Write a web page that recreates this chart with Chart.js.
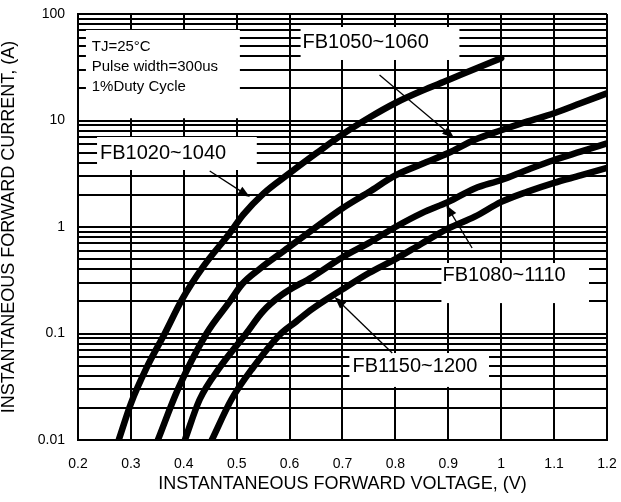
<!DOCTYPE html>
<html>
<head>
<meta charset="utf-8">
<script src="https://cdn.jsdelivr.net/npm/chart.js@4.4.1/dist/chart.umd.min.js"></script>
<style>
  body { margin: 0; background: #fff; }
  #wrap { width: 621px; height: 502px; position: relative; }
</style>
</head>
<body>
<div id="wrap"><canvas id="ivChart"></canvas></div>
<script>
// forward voltage (V) / forward current (A)
const v1020 = [0.277, 0.3, 0.33, 0.364, 0.396, 0.436, 0.487, 0.512, 0.55, 0.6, 0.65, 0.7, 0.75, 0.8, 0.85, 0.9, 0.95, 1.0];
const i1020 = [0.01, 0.022, 0.048, 0.1, 0.206, 0.42, 0.88, 1.3, 2.05, 3.2, 4.9, 7.4, 10.6, 14.6, 19, 24, 30.5, 38.5];

const v1050 = [0.351, 0.389, 0.443, 0.487, 0.51, 0.545, 0.59, 0.643, 0.7, 0.75, 0.8, 0.85, 0.9, 0.95, 1.0, 1.05, 1.1, 1.15, 1.2];
const i1050 = [0.01, 0.03, 0.1, 0.2, 0.29, 0.41, 0.6, 0.94, 1.5, 2.13, 3.05, 3.9, 4.95, 6.6, 8.1, 9.8, 11.7, 14.5, 18];

const v1080 = [0.402, 0.43, 0.468, 0.518, 0.549, 0.585, 0.643, 0.7, 0.75, 0.8, 0.85, 0.9, 0.95, 1.0, 1.05, 1.1, 1.15, 1.2];
const i1080 = [0.01, 0.024, 0.048, 0.1, 0.16, 0.23, 0.34, 0.52, 0.71, 1.0, 1.35, 1.72, 2.3, 2.76, 3.45, 4.26, 5.1, 6.1];

const v1150 = [0.453, 0.49, 0.531, 0.581, 0.613, 0.643, 0.7, 0.75, 0.8, 0.85, 0.9, 0.95, 1.0, 1.05, 1.1, 1.15, 1.2];
const i1150 = [0.01, 0.024, 0.048, 0.097, 0.13, 0.17, 0.26, 0.37, 0.5, 0.7, 0.97, 1.25, 1.72, 2.15, 2.6, 3.05, 3.6];

const seriesNames = ['FB1020~1040', 'FB1050~1060', 'FB1080~1110', 'FB1150~1200'];
const condLines = ['TJ=25°C', 'Pulse width=300us', '1%Duty Cycle'];

const xTicks = [0.2, 0.3, 0.4, 0.5, 0.6, 0.7, 0.8, 0.9, 1.0, 1.1, 1.2];
const xLabels = ['0.2', '0.3', '0.4', '0.5', '0.6', '0.7', '0.8', '0.9', '1', '1.1', '1.2'];
const yTicks = [
  0.01, 0.02, 0.03, 0.04, 0.05, 0.06, 0.07, 0.08, 0.09,
  0.1, 0.2, 0.3, 0.4, 0.5, 0.6, 0.7, 0.8, 0.9,
  1, 2, 3, 4, 5, 6, 7, 8, 9,
  10, 20, 30, 40, 50, 60, 70, 80, 90, 100
];
const yMajor = [0.01, 0.1, 1, 10, 100];
const yLabels = ['0.01', '0.1', '1', '10', '100'];

const FONT = "'Liberation Sans', Arial, sans-serif";

// label boxes + arrows, placed in data units (V, A)
const condBox = { x0: 0.215, x1: 0.506, y0: 70.8, y1: 10.5, tx: 0.226, ty: [49, 31.8, 20.6] };
const labelBoxes = [
  { x0: 0.236, x1: 0.538, y0: 7.0, y1: 3.43, tx: 0.2415, ty: 4.95, from: [0.449, 3.36], to: [0.525, 1.91] },
  { x0: 0.6208, x1: 0.921, y0: 75.5, y1: 37, tx: 0.6245, ty: 54.6, from: [0.770, 26.7], to: [0.911, 6.85] },
  { x0: 0.887, x1: 1.166, y0: 0.459, y1: 0.193, tx: 0.889, ty: 0.354, from: [0.945, 0.635], to: [0.896, 1.61] },
  { x0: 0.713, x1: 0.977, y0: 0.0656, y1: 0.0315, tx: 0.719, ty: 0.0485, from: [0.794, 0.0656], to: [0.685, 0.22] }
];

function drawArrow(ctx, x0, y0, x1, y1) {
  const ang = Math.atan2(y1 - y0, x1 - x0);
  const len = 12, half = 4.5;
  ctx.beginPath();
  ctx.moveTo(x0, y0);
  ctx.lineTo(x1 - Math.cos(ang) * len * 0.8, y1 - Math.sin(ang) * len * 0.8);
  ctx.lineWidth = 1.3;
  ctx.strokeStyle = '#000';
  ctx.stroke();
  ctx.beginPath();
  ctx.moveTo(x1, y1);
  ctx.lineTo(x1 - Math.cos(ang) * len + Math.sin(ang) * half, y1 - Math.sin(ang) * len - Math.cos(ang) * half);
  ctx.lineTo(x1 - Math.cos(ang) * len - Math.sin(ang) * half, y1 - Math.sin(ang) * len + Math.cos(ang) * half);
  ctx.closePath();
  ctx.fillStyle = '#000';
  ctx.fill();
}

const notesPlugin = {
  id: 'notes',
  afterDatasetsDraw(chart) {
    const { ctx, scales: { x, y } } = chart;
    const px = v => x.getPixelForValue(v);
    const py = v => y.getPixelForValue(v);
    ctx.save();

    ctx.fillStyle = '#fff';
    ctx.fillRect(px(condBox.x0), py(condBox.y0), px(condBox.x1) - px(condBox.x0), py(condBox.y1) - py(condBox.y0));
    ctx.fillStyle = '#000';
    ctx.font = '15px ' + FONT;
    ctx.textBaseline = 'middle';
    ctx.textAlign = 'left';
    condLines.forEach((t, k) => ctx.fillText(t, px(condBox.tx), py(condBox.ty[k])));

    labelBoxes.forEach((b, k) => {
      ctx.fillStyle = '#fff';
      ctx.fillRect(px(b.x0), py(b.y0), px(b.x1) - px(b.x0), py(b.y1) - py(b.y0));
      ctx.fillStyle = '#000';
      ctx.font = '20px ' + FONT;
      ctx.fillText(seriesNames[k], px(b.tx), py(b.ty));
      drawArrow(ctx, px(b.from[0]), py(b.from[1]), px(b.to[0]), py(b.to[1]));
    });
    ctx.restore();
  }
};

function pts(vs, is) {
  return vs.map((v, k) => ({ x: v, y: is[k] }));
}

function curve(vs, is, name) {
  return {
    label: name,
    data: pts(vs, is),
    borderColor: '#000',
    borderWidth: 6.5,
    pointRadius: 0,
    fill: false,
    cubicInterpolationMode: 'monotone',
    borderCapStyle: 'round',
    borderJoinStyle: 'round'
  };
}

// scales add tick padding to their edge padding; zero it so layout.padding rules
function noEdgePad(s) {
  s.paddingTop = 0;
  s.paddingBottom = 0;
  s.paddingLeft = 0;
  s.paddingRight = 0;
}

window.addEventListener('DOMContentLoaded', () => {
  const ctx = document.getElementById('ivChart').getContext('2d');
  new Chart(ctx, {
    type: 'line',
    data: {
      datasets: [
        curve(v1020, i1020, seriesNames[0]),
        curve(v1050, i1050, seriesNames[1]),
        curve(v1080, i1080, seriesNames[2]),
        curve(v1150, i1150, seriesNames[3])
      ]
    },
    options: {
      responsive: true,
      maintainAspectRatio: false,
      animation: false,
      layout: { padding: { top: 14, right: 14, left: 0, bottom: 0 } },
      plugins: {
        legend: { display: false },
        tooltip: { enabled: false }
      },
      scales: {
        x: {
          type: 'linear',
          min: 0.2,
          max: 1.2,
          afterBuildTicks: s => { s.ticks = xTicks.map(v => ({ value: v })); },
          afterFit: s => { s.height = 62; noEdgePad(s); },
          grid: { color: '#000', lineWidth: 2, drawTicks: false },
          border: { display: true, color: '#000', width: 2 },
          ticks: {
            autoSkip: false,
            maxRotation: 0,
            padding: 16,
            color: '#000',
            font: { family: FONT, size: 14 },
            callback: (val, idx) => xLabels[idx]
          },
          title: {
            display: true,
            text: 'INSTANTANEOUS FORWARD VOLTAGE, (V)',
            color: '#000',
            font: { family: FONT, size: 18 },
            padding: { top: 0, bottom: 7 }
          }
        },
        y: {
          type: 'logarithmic',
          min: 0.01,
          max: 100,
          afterBuildTicks: s => { s.ticks = yTicks.map(v => ({ value: v })); },
          afterFit: s => { s.width = 78; noEdgePad(s); },
          grid: { color: '#000', lineWidth: 2, drawTicks: false },
          border: { display: true, color: '#000', width: 2 },
          ticks: {
            autoSkip: false,
            padding: 13,
            color: '#000',
            font: { family: FONT, size: 14 },
            callback: val => {
              const k = yMajor.findIndex(m => Math.abs(m - val) < m * 1e-6);
              return k >= 0 ? yLabels[k] : '';
            }
          },
          title: {
            display: true,
            text: 'INSTANTANEOUS FORWARD CURRENT, (A)',
            color: '#000',
            font: { family: FONT, size: 18 },
            padding: { top: -2, bottom: 0 }
          }
        }
      }
    },
    plugins: [notesPlugin]
  });
});
</script>
</body>
</html>
